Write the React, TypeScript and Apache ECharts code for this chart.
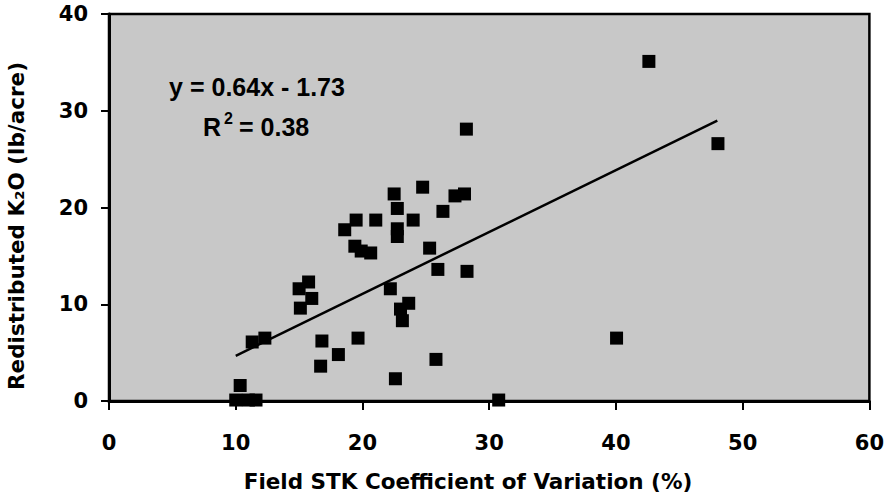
import React, { useEffect, useRef } from "react";
import * as echarts from "echarts";

// Field STK coefficient of variation (%)
const cv = [
  10.35, 10.0, 11.0, 11.6, 11.3, 12.3, 15.1, 15.0, 15.75, 16.0, 16.8, 16.7, 18.1, 19.65,
  18.6, 19.5, 19.4, 19.9, 20.65, 21.05, 22.2, 22.5, 22.75, 22.75, 22.75, 22.6, 23.0, 23.65,
  23.15, 24.0, 24.75, 25.3, 25.95, 25.8, 26.35, 27.3, 28.05, 28.2, 28.25, 30.75, 40.05,
  42.6, 48.05,
];
// Redistributed K2O (lb/acre)
const k2o = [
  1.6, 0.1, 0.1, 0.1, 6.1, 6.5, 9.6, 11.6, 12.3, 10.6, 6.2, 3.6, 4.8, 6.5,
  17.7, 18.7, 16.0, 15.5, 15.3, 18.7, 11.6, 21.4, 19.9, 17.8, 17.0, 2.3, 9.5, 10.1,
  8.3, 18.7, 22.1, 15.8, 13.6, 4.3, 19.6, 21.2, 21.4, 28.1, 13.4, 0.1, 6.5,
  35.1, 26.6,
];

const slope = 0.64;
const intercept = -1.73;
const trendX = [10, 48];
const xTicks = [0, 10, 20, 30, 40, 50, 60];
const yTicks = [0, 10, 20, 30, 40];
const xTitle = "Field STK Coefficient of Variation (%)";
const yTitle = "Redistributed K₂O (lb/acre)";

export default function App() {
  const ref = useRef<HTMLDivElement>(null);
  useEffect(() => {
    if (!ref.current) return;
    const chart = echarts.init(ref.current, null, { renderer: "svg" });
    const axisFont = "DejaVu Sans";
    const eqFont = "bold 25px 'Liberation Sans', Arial, sans-serif";
    chart.setOption({
      animation: false,
      backgroundColor: "#ffffff",
      grid: {
        left: 109,
        top: 14,
        right: 15,
        bottom: 99,
        show: true,
        backgroundColor: "#C8C8C8",
        borderColor: "#000000",
        borderWidth: 2.5,
      },
      xAxis: {
        type: "value",
        min: xTicks[0],
        max: xTicks[xTicks.length - 1],
        interval: 10,
        axisLine: { show: true, onZero: false, lineStyle: { color: "#000", width: 3 } },
        axisTick: { show: true, length: 9, lineStyle: { color: "#000", width: 2 } },
        axisLabel: { margin: 31, fontFamily: axisFont, fontWeight: "bold", fontSize: 21, color: "#000" },
        splitLine: { show: false },
      },
      yAxis: {
        type: "value",
        min: yTicks[0],
        max: yTicks[yTicks.length - 1],
        interval: 10,
        axisLine: { show: true, onZero: false, lineStyle: { color: "#000", width: 3 } },
        axisTick: { show: true, length: 8, lineStyle: { color: "#000", width: 2 } },
        axisLabel: { margin: 21, fontFamily: axisFont, fontWeight: "bold", fontSize: 21, color: "#000" },
        splitLine: { show: false },
      },
      series: [
        {
          type: "scatter",
          symbol: "rect",
          symbolSize: 13,
          itemStyle: { color: "#000000", opacity: 1 },
          data: cv.map((x, i) => [x, k2o[i]]),
          z: 3,
        },
        {
          type: "line",
          symbol: "none",
          lineStyle: { color: "#000000", width: 2.5 },
          data: trendX.map((x) => [x, slope * x + intercept]),
          z: 4,
        },
      ],
      graphic: [
        {
          type: "text",
          x: 468,
          y: 481,
          style: {
            text: xTitle,
            align: "center",
            verticalAlign: "middle",
            font: `bold 21.5px '${axisFont}'`,
            fill: "#000",
          },
        },
        {
          type: "text",
          x: 16,
          y: 226,
          rotation: Math.PI / 2,
          style: {
            text: yTitle,
            align: "center",
            verticalAlign: "middle",
            font: `bold 21.5px '${axisFont}'`,
            fill: "#000",
          },
        },
        {
          type: "text",
          x: 257,
          y: 87,
          z: 10,
          style: {
            text: "y = 0.64x - 1.73",
            align: "center",
            verticalAlign: "middle",
            font: eqFont,
            fill: "#000",
          },
        },
        {
          type: "text",
          x: 203,
          y: 127,
          z: 10,
          style: {
            text: "R",
            align: "left",
            verticalAlign: "middle",
            font: eqFont,
            fill: "#000",
          },
        },
        {
          type: "text",
          x: 224,
          y: 118,
          z: 10,
          style: {
            text: "2",
            align: "left",
            verticalAlign: "middle",
            font: "bold 16px 'Liberation Sans', Arial, sans-serif",
            fill: "#000",
          },
        },
        {
          type: "text",
          x: 239,
          y: 127,
          z: 10,
          style: {
            text: "= 0.38",
            align: "left",
            verticalAlign: "middle",
            font: eqFont,
            fill: "#000",
          },
        },
      ],
    });
    return () => chart.dispose();
  }, []);
  return (
    <div
      ref={ref}
      style={{ position: "fixed", left: 0, top: 0, width: 887, height: 500 }}
    />
  );
}
